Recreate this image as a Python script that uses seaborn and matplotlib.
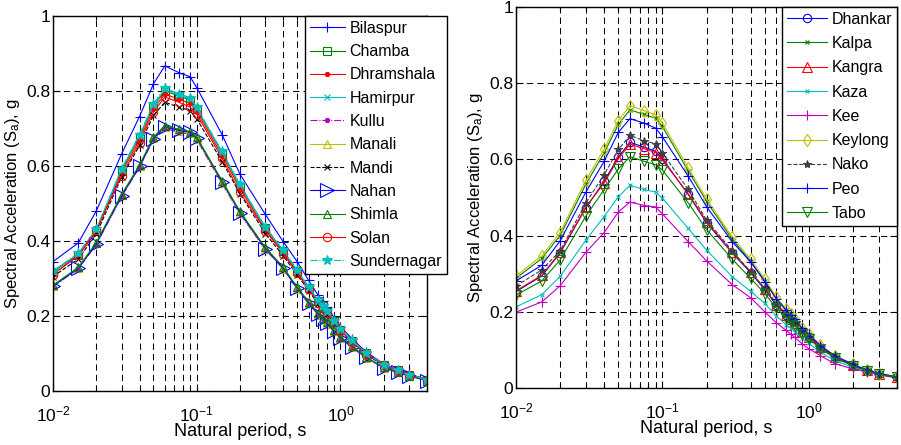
import matplotlib
matplotlib.use("Agg")
import matplotlib.pyplot as plt
import seaborn as sns
import numpy as np
from matplotlib.ticker import LogLocator, NullFormatter

plt.rcParams['font.family'] = ['Liberation Sans', 'DejaVu Sans']
plt.rcParams['mathtext.fontset'] = 'custom'
plt.rcParams['mathtext.rm'] = 'Liberation Sans'
plt.rcParams['mathtext.it'] = 'Liberation Sans:italic'
plt.rcParams['mathtext.bf'] = 'Liberation Sans:bold'

# ---------------- data ----------------
periods = [0.01, 0.015, 0.02, 0.03, 0.04, 0.05, 0.06, 0.075, 0.09, 0.1, 0.15, 0.2, 0.3,
           0.4, 0.5, 0.6, 0.7, 0.75, 0.8, 0.9, 1.0, 1.2, 1.5, 2.0, 2.5, 3.0, 4.0]

# left panel
bilaspur    = [0.345, 0.395, 0.480, 0.632, 0.732, 0.819, 0.867, 0.849, 0.838, 0.809, 0.684, 0.578, 0.471,
               0.398, 0.345, 0.295, 0.255, 0.240, 0.225, 0.197, 0.172, 0.140, 0.105, 0.072, 0.056, 0.045, 0.031]
chamba      = [0.318, 0.364, 0.428, 0.588, 0.678, 0.760, 0.800, 0.787, 0.776, 0.752, 0.635, 0.547, 0.435,
               0.373, 0.320, 0.276, 0.240, 0.226, 0.211, 0.186, 0.164, 0.134, 0.101, 0.070, 0.055, 0.044, 0.030]
dhramshala  = [0.312, 0.360, 0.424, 0.582, 0.670, 0.752, 0.792, 0.778, 0.767, 0.745, 0.628, 0.540, 0.430,
               0.369, 0.317, 0.273, 0.238, 0.224, 0.209, 0.185, 0.162, 0.133, 0.100, 0.069, 0.054, 0.043, 0.030]
hamirpur    = [0.320, 0.366, 0.431, 0.591, 0.682, 0.763, 0.805, 0.790, 0.779, 0.754, 0.637, 0.549, 0.436,
               0.374, 0.321, 0.277, 0.241, 0.227, 0.212, 0.187, 0.164, 0.134, 0.101, 0.070, 0.055, 0.044, 0.030]
kullu       = [0.278, 0.326, 0.390, 0.518, 0.597, 0.670, 0.700, 0.690, 0.685, 0.670, 0.553, 0.472, 0.377,
               0.325, 0.272, 0.233, 0.203, 0.191, 0.179, 0.158, 0.140, 0.116, 0.089, 0.061, 0.049, 0.040, 0.028]
manali      = [0.280, 0.328, 0.394, 0.522, 0.600, 0.674, 0.704, 0.694, 0.688, 0.673, 0.556, 0.474, 0.379,
               0.326, 0.273, 0.234, 0.204, 0.192, 0.180, 0.159, 0.141, 0.117, 0.089, 0.062, 0.050, 0.040, 0.028]
mandi       = [0.305, 0.352, 0.418, 0.570, 0.655, 0.735, 0.770, 0.757, 0.748, 0.726, 0.612, 0.526, 0.420,
               0.360, 0.310, 0.267, 0.233, 0.219, 0.205, 0.181, 0.159, 0.130, 0.098, 0.068, 0.053, 0.042, 0.029]
nahan       = [0.280, 0.327, 0.392, 0.520, 0.599, 0.673, 0.705, 0.695, 0.690, 0.675, 0.558, 0.476, 0.380,
               0.327, 0.274, 0.235, 0.205, 0.193, 0.181, 0.160, 0.142, 0.118, 0.090, 0.062, 0.050, 0.040, 0.028]
shimla      = [0.282, 0.330, 0.396, 0.524, 0.603, 0.677, 0.708, 0.698, 0.692, 0.677, 0.561, 0.479, 0.383,
               0.330, 0.277, 0.238, 0.208, 0.196, 0.184, 0.163, 0.144, 0.120, 0.091, 0.063, 0.051, 0.041, 0.028]
solan       = [0.310, 0.363, 0.429, 0.574, 0.662, 0.744, 0.784, 0.770, 0.757, 0.738, 0.621, 0.530, 0.428,
               0.366, 0.314, 0.271, 0.236, 0.222, 0.208, 0.184, 0.161, 0.132, 0.099, 0.069, 0.054, 0.043, 0.030]
sundernagar = [0.320, 0.367, 0.432, 0.593, 0.684, 0.766, 0.808, 0.793, 0.782, 0.757, 0.639, 0.551, 0.438,
               0.376, 0.323, 0.278, 0.242, 0.228, 0.213, 0.188, 0.165, 0.135, 0.102, 0.070, 0.055, 0.044, 0.030]

# right panel
dhankar = [0.253, 0.294, 0.354, 0.473, 0.543, 0.606, 0.645, 0.632, 0.621, 0.602, 0.508, 0.434, 0.354,
           0.303, 0.258, 0.218, 0.191, 0.180, 0.169, 0.148, 0.133, 0.106, 0.081, 0.059, 0.045, 0.037, 0.028]
kalpa   = [0.288, 0.340, 0.400, 0.535, 0.617, 0.692, 0.730, 0.718, 0.708, 0.686, 0.570, 0.490, 0.390,
           0.333, 0.282, 0.235, 0.204, 0.191, 0.179, 0.156, 0.140, 0.111, 0.084, 0.061, 0.047, 0.038, 0.029]
kangra  = [0.255, 0.296, 0.356, 0.475, 0.538, 0.602, 0.640, 0.628, 0.618, 0.598, 0.510, 0.437, 0.356,
           0.305, 0.260, 0.219, 0.192, 0.181, 0.170, 0.149, 0.134, 0.107, 0.082, 0.060, 0.046, 0.037, 0.028]
kaza    = [0.213, 0.245, 0.293, 0.388, 0.450, 0.502, 0.532, 0.521, 0.514, 0.498, 0.419, 0.362, 0.292,
           0.254, 0.222, 0.189, 0.166, 0.157, 0.148, 0.130, 0.117, 0.094, 0.072, 0.054, 0.043, 0.035, 0.027]
kee     = [0.199, 0.226, 0.268, 0.356, 0.408, 0.462, 0.488, 0.479, 0.475, 0.457, 0.384, 0.334, 0.271,
           0.237, 0.200, 0.171, 0.151, 0.142, 0.133, 0.116, 0.103, 0.085, 0.064, 0.050, 0.042, 0.035, 0.026]
keylong = [0.294, 0.347, 0.408, 0.545, 0.627, 0.702, 0.741, 0.728, 0.717, 0.695, 0.578, 0.497, 0.396,
           0.338, 0.286, 0.238, 0.207, 0.194, 0.181, 0.158, 0.142, 0.112, 0.085, 0.062, 0.047, 0.038, 0.029]
nako    = [0.268, 0.310, 0.360, 0.486, 0.560, 0.626, 0.663, 0.649, 0.641, 0.617, 0.521, 0.441, 0.360,
           0.305, 0.262, 0.221, 0.193, 0.182, 0.171, 0.150, 0.135, 0.107, 0.082, 0.060, 0.046, 0.037, 0.028]
peo     = [0.281, 0.322, 0.386, 0.514, 0.595, 0.671, 0.707, 0.695, 0.682, 0.659, 0.556, 0.476, 0.384,
           0.331, 0.279, 0.234, 0.204, 0.192, 0.180, 0.157, 0.141, 0.111, 0.085, 0.062, 0.047, 0.038, 0.029]
tabo    = [0.244, 0.281, 0.336, 0.451, 0.521, 0.575, 0.607, 0.595, 0.586, 0.572, 0.486, 0.416, 0.338,
           0.288, 0.248, 0.210, 0.184, 0.174, 0.163, 0.143, 0.129, 0.103, 0.079, 0.058, 0.045, 0.036, 0.028]

left_names = ["Bilaspur", "Chamba", "Dhramshala", "Hamirpur", "Kullu", "Manali", "Mandi",
              "Nahan", "Shimla", "Solan", "Sundernagar"]
left_values = [bilaspur, chamba, dhramshala, hamirpur, kullu, manali, mandi, nahan, shimla, solan, sundernagar]
right_names = ["Dhankar", "Kalpa", "Kangra", "Kaza", "Kee", "Keylong", "Nako", "Peo", "Tabo"]
right_values = [dhankar, kalpa, kangra, kaza, kee, keylong, nako, peo, tabo]

yticks = [0, 0.2, 0.4, 0.6, 0.8, 1.0]
ytick_labels = ["0", "0.2", "0.4", "0.6", "0.8", "1"]
xlabel = "Natural period, s"
ylabel = r"Spectral Acceleration (S$_\mathregular{a}$), g"

# ---------------- styles ----------------
B, G, R, C, M, Y, K = "#0000ff", "#008000", "#ff0000", "#00bfbf", "#bf00bf", "#bfbf00", "#000000"
GR = "#404040"
left_styles = [
    dict(color=B, marker="+", ls="-", ms=7, mfc=B),
    dict(color=G, marker="s", ls="-", ms=6, mfc="none"),
    dict(color=R, marker=".", ls="-", ms=6, mfc=R),
    dict(color=C, marker="x", ls="-", ms=4, mfc=C),
    dict(color=M, marker=".", ls="-.", ms=6, mfc=M),
    dict(color=Y, marker="^", ls="-", ms=6, mfc="none"),
    dict(color=K, marker="x", ls="--", ms=4, mfc=K),
    dict(color=B, marker=">", ls="-", ms=10, mfc="none"),
    dict(color=G, marker="^", ls="-", ms=6, mfc="none"),
    dict(color=R, marker="o", ls="-", ms=6, mfc="none"),
    dict(color=C, marker="*", ls="-.", ms=7, mfc=C),
]
right_styles = [
    dict(color=B, marker="o", ls="-", ms=6, mfc="none"),
    dict(color=G, marker="x", ls="-", ms=3, mfc=G),
    dict(color=R, marker="^", ls="-", ms=7, mfc="none"),
    dict(color=C, marker="x", ls="-", ms=3, mfc=C),
    dict(color=M, marker="+", ls="-", ms=7, mfc=M),
    dict(color=Y, marker="d", ls="-", ms=6, mfc="none"),
    dict(color=GR, marker="*", ls="--", ms=6, mfc=GR),
    dict(color=B, marker="+", ls="-", ms=7, mfc=B),
    dict(color=G, marker="v", ls="-", ms=7, mfc="none"),
]

W, H = 901, 445
fig = plt.figure(figsize=(W / 100, H / 100), dpi=100)
ax1 = fig.add_axes([53 / W, 1 - 391 / H, (427 - 53) / W, (391 - 16) / H])
ax2 = fig.add_axes([516 / W, 1 - 388 / H, (897 - 516) / W, (388 - 7) / H])

TICK_FS = 12.5
XLAB_FS = 13
YLAB_FS = 12
LEG_FS = 11.5


def draw(ax, names, values, styles, legend_anchor, legend_loc, lspace, hlen):
    ax.set_xscale("log")
    for name, vals, st in zip(names, values, styles):
        sns.lineplot(x=periods, y=vals, ax=ax, label=name, color=st["color"],
                     marker=st["marker"], linestyle=st["ls"], markersize=st["ms"],
                     markerfacecolor=st["mfc"], markeredgecolor=st["color"],
                     markeredgewidth=0.8, linewidth=0.8, sort=False, errorbar=None)
    ax.set_xlim(0.01, 4)
    ax.set_ylim(0, 1)
    ax.set_yticks(yticks)
    ax.set_yticklabels(ytick_labels)
    ax.xaxis.set_major_locator(LogLocator(base=10, numticks=10))
    ax.xaxis.set_minor_locator(LogLocator(base=10, subs=np.arange(2, 10), numticks=10))
    ax.xaxis.set_minor_formatter(NullFormatter())
    ax.grid(True, which="both", axis="x", color="k", linestyle=(0, (6, 4)), linewidth=0.75)
    ax.grid(True, which="major", axis="y", color="k", linestyle=(0, (6, 4)), linewidth=0.75)
    ax.tick_params(which="both", direction="in", top=True, right=True, labelsize=TICK_FS,
                   colors="k", width=0.8)
    ax.tick_params(which="major", length=5)
    ax.tick_params(which="minor", length=3)
    ax.tick_params(axis="x", which="major", pad=9.5)
    ax.tick_params(axis="y", which="major", pad=2)
    for s in ax.spines.values():
        s.set_linewidth(1.0)
        s.set_color("k")
    ax.set_xlabel(xlabel, fontsize=XLAB_FS, labelpad=-1)
    ax.set_ylabel(ylabel, fontsize=YLAB_FS, labelpad=3)
    leg = ax.legend(loc=legend_loc, bbox_to_anchor=legend_anchor, borderaxespad=0,
                    fontsize=LEG_FS, frameon=True, fancybox=False, framealpha=1,
                    edgecolor="k", handlelength=hlen, handletextpad=0.3,
                    borderpad=0.3, labelspacing=lspace)
    leg.get_frame().set_linewidth(1.0)
    leg.set_zorder(10)


draw(ax1, left_names, left_values, left_styles, ((305 - 53) / (427 - 53), 1.0), "upper left", 0.52, 2.2)
draw(ax2, right_names, right_values, right_styles, (1.0, 1.0), "upper right", 0.58, 2.5)

fig.savefig("out.png", dpi=100)
